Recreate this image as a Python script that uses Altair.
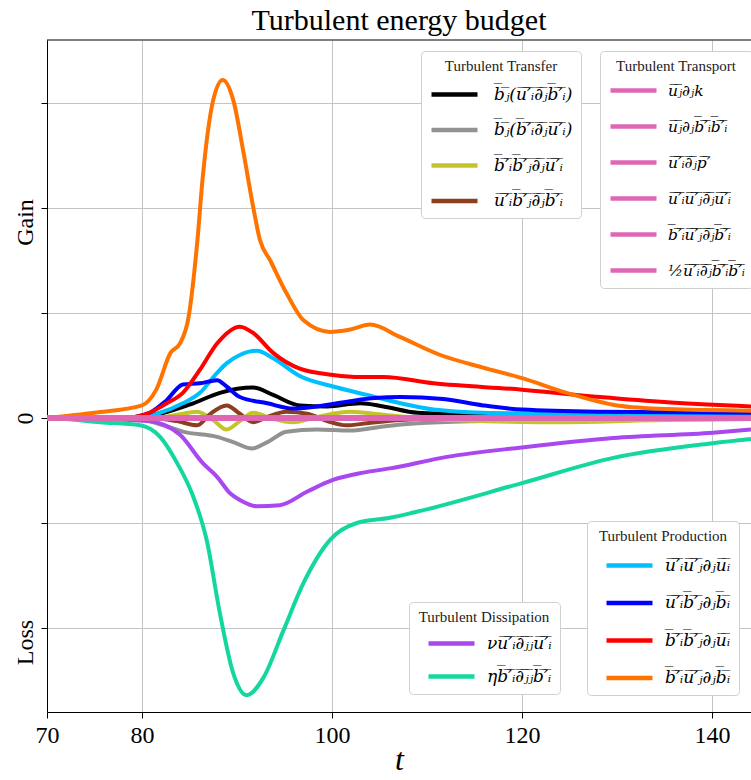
import altair as alt
import pandas as pd

# ---------------- data ----------------
OL = "\u0305"
def ol(s):
    return "".join(ch + OL for ch in s)

# Turbulent Transfer
transfer_labels = [
    ol("bⱼ") + "(" + ol("u′ᵢ∂ⱼb′ᵢ") + ")",
    ol("bⱼ") + "(" + ol("b′ᵢ∂ⱼu′ᵢ") + ")",
    ol("b′ᵢb′ⱼ∂ⱼu′ᵢ"),
    ol("u′ᵢb′ⱼ∂ⱼb′ᵢ"),
]
transfer_colors = ["#000000", "#929292", "#c4c42a", "#8b3f1f"]

black_t = [70, 78, 81.9, 85.4, 88.2, 91.7, 93.8, 96.6, 99.5, 103, 105.4, 109, 115, 125, 135, 144.1]
black_v = [0, 0.0, 0.04, 0.14, 0.24, 0.29, 0.22, 0.12, 0.11, 0.14, 0.11, 0.05, 0.03, 0.02, 0.02, 0.02]
gray_t = [70, 79, 82.6, 84.3, 87.9, 89.6, 91.6, 93.2, 95.2, 98.4, 101.9, 105.4, 109, 115, 125, 144.1]
gray_v = [0, 0.0, -0.08, -0.13, -0.18, -0.23, -0.29, -0.23, -0.13, -0.11, -0.12, -0.08, -0.05, -0.03, -0.02, -0.01]
yellow_t = [70, 81, 83.7, 85.8, 87.5, 88.9, 90.3, 91.7, 93.5, 95.9, 98.4, 101.9, 105.4, 109, 116, 124.7, 135, 144.1]
yellow_v = [0, 0.0, 0.03, 0.06, -0.02, -0.11, -0.03, 0.05, 0.0, -0.04, 0.01, 0.06, 0.03, 0.0, -0.03, -0.04, -0.02, -0.01]
brown_t = [70, 81, 83.7, 85.8, 87.2, 88.9, 90.3, 91.7, 93.2, 95.2, 97.4, 99.5, 101.5, 103.7, 107.2, 112, 125, 144.1]
brown_v = [0, 0.0, -0.03, -0.07, 0.04, 0.12, 0.04, -0.04, 0.01, 0.06, 0.04, -0.03, -0.07, -0.05, -0.02, 0.0, 0.0, 0.0]

# Turbulent Transport (all identically zero)
transport_labels = [
    ol("uⱼ") + "∂ⱼk",
    ol("uⱼ") + "∂ⱼ" + ol("b′ᵢb′ᵢ"),
    ol("u′ᵢ∂ⱼp′"),
    ol("u′ᵢu′ⱼ∂ⱼu′ᵢ"),
    ol("b′ᵢu′ⱼ∂ⱼb′ᵢ"),
    "½" + ol("u′ᵢ∂ⱼb′ᵢb′ᵢ"),
]
transport_colors = ["#de66b3"] * 6
transport_t = [70, 144.1]
transport_v = [0, 0]

# Turbulent Dissipation
dissipation_labels = ["ν" + ol("u′ᵢ∂ⱼⱼu′ᵢ"), "η" + ol("b′ᵢ∂ⱼⱼb′ᵢ")]
dissipation_colors = ["#a947f0", "#14d79f"]
purple_t = [70, 72, 76, 80.8, 82.2, 84, 86.4, 87.9, 89.3, 90.3, 92.1, 94.5, 97.4, 100.1, 103.3, 106.1, 112.1, 120, 129.6, 140.1, 144.1]
purple_v = [0, 0, -0.01, -0.03, -0.06, -0.16, -0.43, -0.56, -0.72, -0.78, -0.84, -0.83, -0.70, -0.59, -0.52, -0.48, -0.37, -0.28, -0.19, -0.14, -0.11]
teal_t = [70, 72, 75.6, 79.8, 81.9, 83.7, 85.4, 86.8, 88.2, 89.6, 91, 92.8, 94.9, 97, 99.8, 102.6, 106.1, 108.6, 120, 129.6, 140.1, 144.1]
teal_v = [0, -0.01, -0.04, -0.07, -0.18, -0.43, -0.75, -1.16, -1.86, -2.43, -2.64, -2.47, -2.02, -1.57, -1.16, -1.0, -0.95, -0.9, -0.62, -0.38, -0.24, -0.2]

# Turbulent Production
production_labels = [
    ol("u′ᵢu′ⱼ") + "∂ⱼ" + ol("uᵢ"),
    ol("u′ᵢb′ⱼ") + "∂ⱼ" + ol("bᵢ"),
    ol("b′ᵢb′ⱼ") + "∂ⱼ" + ol("uᵢ"),
    ol("b′ᵢu′ⱼ") + "∂ⱼ" + ol("bᵢ"),
]
production_colors = ["#00bfff", "#0000ff", "#ff0000", "#ff7300"]
lblue_t = [70, 79, 81.9, 84.3, 86.1, 87.9, 88.9, 90.3, 92.1, 93.8, 96.6, 100.1, 103.7, 107.2, 110.7, 115.9, 125, 144.1]
lblue_v = [0, 0.0, 0.05, 0.14, 0.24, 0.43, 0.52, 0.60, 0.64, 0.57, 0.40, 0.30, 0.22, 0.14, 0.08, 0.05, 0.04, 0.03]
blue_t = [70, 78, 80.8, 82.6, 84.3, 86.1, 87.9, 88.9, 90.3, 93.2, 95.9, 98.4, 101.9, 104.5, 107.2, 111.7, 115.9, 120, 128, 144.1]
blue_v = [0, 0.0, 0.05, 0.17, 0.32, 0.33, 0.36, 0.30, 0.20, 0.14, 0.09, 0.11, 0.16, 0.19, 0.20, 0.18, 0.12, 0.08, 0.06, 0.05]
red_t = [70, 78, 80.8, 82.6, 84.3, 86.1, 87.9, 90.3, 91.7, 93.8, 96.6, 100.1, 103, 105.4, 110.7, 120, 128.2, 135.3, 144.1]
red_v = [0, 0.0, 0.05, 0.14, 0.24, 0.46, 0.71, 0.87, 0.81, 0.62, 0.47, 0.41, 0.39, 0.39, 0.33, 0.27, 0.20, 0.15, 0.11]
orange_t = [70, 75, 80, 81.5, 83, 84, 84.9, 85.8, 86.4, 87.5, 88.5, 89.6, 90.7, 91.7, 92.4, 93.5, 95.2, 97, 99.8, 101.8, 104, 107.2, 111.4, 115.9, 120, 124.7, 130, 135.3, 144.1]
orange_v = [0, 0.05, 0.12, 0.27, 0.62, 0.71, 0.96, 1.66, 2.3, 3.03, 3.22, 3.03, 2.52, 2.01, 1.70, 1.50, 1.19, 0.93, 0.82, 0.84, 0.89, 0.77, 0.60, 0.48, 0.38, 0.24, 0.12, 0.085, 0.07]

x_ticks = [70, 80, 100, 120, 140]
y_ticks = [-2, -1, 0, 1, 2, 3]


def frame(labels, ts, vs):
    rows = []
    for lab, t, v in zip(labels, ts, vs):
        for a, b in zip(t, v):
            rows.append({"series": lab, "t": a, "v": b})
    return pd.DataFrame(rows)


df_transfer = frame(transfer_labels, [black_t, gray_t, yellow_t, brown_t],
                    [black_v, gray_v, yellow_v, brown_v])
df_transport = frame(transport_labels, [transport_t] * 6, [transport_v] * 6)
df_dissip = frame(dissipation_labels, [purple_t, teal_t], [purple_v, teal_v])
df_prod = frame(production_labels, [lblue_t, blue_t, red_t, orange_t],
                [lblue_v, blue_v, red_v, orange_v])

W, H = 704, 672
XDOM = [70, 144.1]
YDOM = [-2.8, 3.6]

SERIF = "Liberation Serif"
MATH = "DejaVu Serif"

xenc = alt.X("t:Q", scale=alt.Scale(domain=XDOM, nice=False, zero=False),
             axis=alt.Axis(values=x_ticks, title="t", titleFont=SERIF, titleFontSize=32,
                           titleFontStyle="italic", titleFontWeight="normal",
                           titleColor="black", titlePadding=-3,
                           labelFont=SERIF, labelFontSize=24, labelColor="black",
                           labelPadding=5, tickSize=6, tickColor="black",
                           domainColor="black", gridColor="#c4c4c4", grid=True,
                           labelFlush=False))
yenc = alt.Y("v:Q", scale=alt.Scale(domain=YDOM, nice=False, zero=False),
             axis=alt.Axis(values=y_ticks, title=None,
                           labelExpr="datum.value == 2 ? 'Gain' : datum.value == -2 ? 'Loss' : datum.value == 0 ? '0' : ''",
                           labelAngle=270, labelFont=SERIF, labelFontSize=24,
                           labelColor="black", labelPadding=4,
                           labelOffset={"condition": {"test": "datum.value != 0", "value": 14}, "value": 0},
                           tickSize=6, tickColor="black", domainColor="black",
                           gridColor="#c4c4c4", grid=True))


def legend(title, lx, ly, path, loff, rowpad, tpad, lsize=17):
    return alt.Legend(
        title=title, orient="none", legendX=lx, legendY=ly,
        titleFont=SERIF, titleFontSize=15, titleFontWeight="normal", titleColor="#222",
        titleAnchor="middle", titlePadding=tpad,
        labelFont=MATH, labelFontSize=lsize, labelFontStyle="italic", labelColor="black",
        labelOffset=loff, labelLimit=300,
        symbolType=path, symbolSize=400, symbolStrokeWidth=4.5, symbolFillColor="transparent",
        rowPadding=rowpad, padding=8,
        fillColor="white", strokeColor="#cfcfcf", cornerRadius=4,
    )


def layer(df, labels, colors, leg, sw=4):
    return alt.Chart(df).mark_line(strokeWidth=sw, interpolate="monotone", clip=True).encode(
        x=xenc, y=yenc,
        color=alt.Color("series:N", scale=alt.Scale(domain=labels, range=colors),
                        sort=labels, legend=leg),
    )


l_transfer = layer(df_transfer, transfer_labels, transfer_colors,
                   legend("Turbulent Transfer", 374, 11, "M-1,0H3.6", 40, 13.5, 8))
l_dissip = layer(df_dissip, dissipation_labels, dissipation_colors,
                 legend("Turbulent Dissipation", 362, 562, "M-0.1,0H4.5", 45, 11, 6))
l_prod = layer(df_prod, production_labels, production_colors,
               legend("Turbulent Production", 540, 481, "M-0.1,0H4.5", 45, 15.5, 9))
l_transport = layer(df_transport, transport_labels, transport_colors,
                    legend("Turbulent Transport", 553, 11, "M-1,0H3.6", 35, 14, 4, 15.5), sw=5)

top_rule = alt.Chart(pd.DataFrame({"a": [0]})).mark_rule(color="black", strokeWidth=1).encode(
    y=alt.value(0), x=alt.value(0), x2=alt.value(W))

chart = alt.layer(l_transfer, l_dissip, l_prod, l_transport, top_rule).resolve_scale(
    color="independent").resolve_legend(color="independent").properties(
    width=W, height=H,
    title=alt.Title("Turbulent energy budget", font=SERIF, fontSize=30,
                    fontWeight="normal", color="black", offset=4),
    autosize=alt.AutoSizeParams(type="none"),
    padding={"left": 47, "top": 40, "right": 0, "bottom": 68},
).configure_view(stroke=None)

chart.save("out.html", embed_options={"renderer": "svg", "actions": False})
